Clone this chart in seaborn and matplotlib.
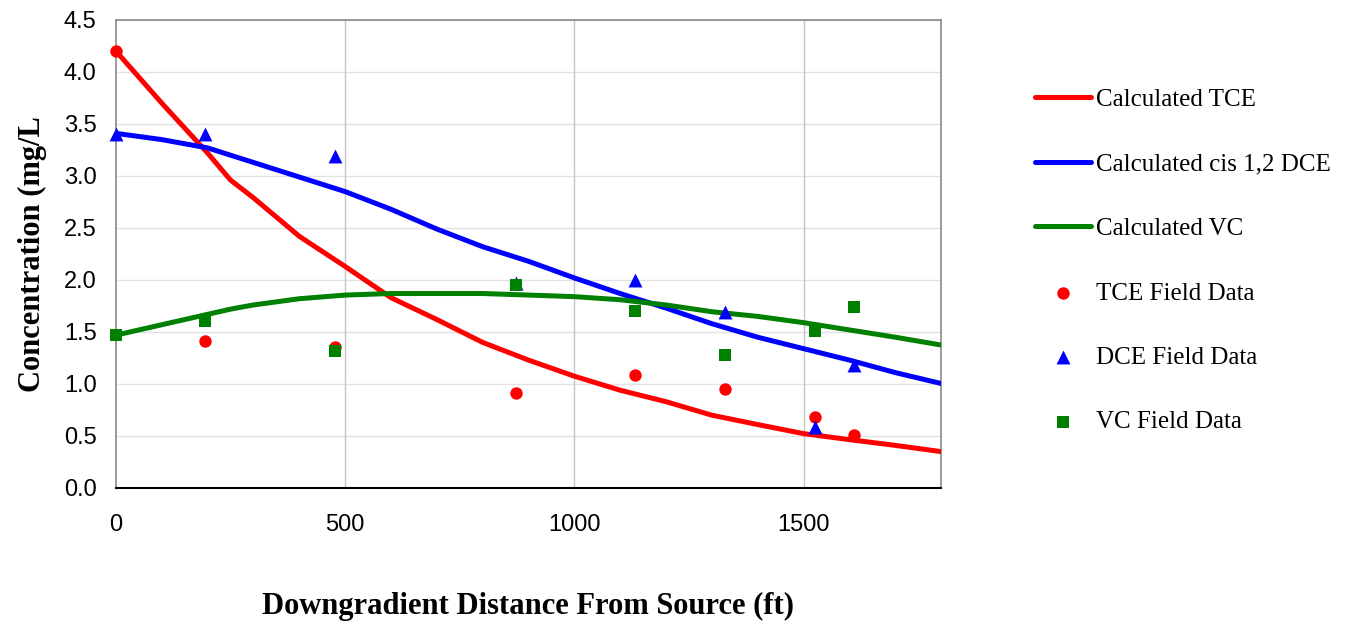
import matplotlib.pyplot as plt
import seaborn as sns
import pandas as pd
from matplotlib.ticker import FormatStrFormatter

# distancia (ft) de las curvas calculadas
dist_calc = [0, 100, 200, 250, 300, 400, 500, 600, 700, 800, 900, 1000,
             1100, 1200, 1300, 1400, 1500, 1600, 1700, 1800]
tce_calc = [4.20, 3.70, 3.22, 2.96, 2.79, 2.42, 2.13, 1.83, 1.62, 1.40, 1.23, 1.075,
            0.94, 0.83, 0.70, 0.61, 0.523, 0.465, 0.41, 0.35]
dce_calc = [3.41, 3.35, 3.27, 3.20, 3.13, 2.99, 2.85, 2.68, 2.49, 2.32, 2.18, 2.02,
            1.87, 1.73, 1.58, 1.45, 1.34, 1.23, 1.11, 1.005]
vc_calc = [1.47, 1.57, 1.67, 1.72, 1.76, 1.82, 1.855, 1.87, 1.87, 1.87, 1.855, 1.84,
           1.81, 1.76, 1.695, 1.65, 1.59, 1.52, 1.45, 1.375]

# datos de campo
dist_campo = [0, 195, 477, 872, 1132, 1328, 1524, 1611]
tce_campo = [4.20, 1.41, 1.36, 0.915, 1.085, 0.953, 0.684, 0.507]
dce_campo = [3.40, 3.40, 3.19, 1.974, 2.00, 1.695, 0.587, 1.18]
vc_campo = [1.47, 1.61, 1.316, 1.95, 1.705, 1.278, 1.51, 1.74]

rojo, azul, verde = '#FF0000', '#0000FF', '#008000'

sns.set_style('white')
plt.rcParams['font.family'] = ['Liberation Sans', 'DejaVu Sans']
plt.rcParams['text.color'] = 'black'
plt.rcParams['xtick.color'] = 'black'
plt.rcParams['ytick.color'] = 'black'
plt.rcParams['axes.labelcolor'] = 'black'

fig = plt.figure(figsize=(13.52, 6.23), dpi=100)
ax = fig.add_axes([116 / 1352, 1 - 488 / 623, (941 - 116) / 1352, (488 - 20) / 623])

df_calc = pd.DataFrame({'x': dist_calc, 'TCE': tce_calc, 'DCE': dce_calc, 'VC': vc_calc})
df_campo = pd.DataFrame({'x': dist_campo, 'TCE': tce_campo, 'DCE': dce_campo, 'VC': vc_campo})

sns.lineplot(data=df_calc, x='x', y='TCE', color=rojo, lw=3.6, ax=ax,
             label='Calculated TCE', zorder=3)
sns.lineplot(data=df_calc, x='x', y='DCE', color=azul, lw=3.6, ax=ax,
             label='Calculated cis 1,2 DCE', zorder=3)
sns.lineplot(data=df_calc, x='x', y='VC', color=verde, lw=3.6, ax=ax,
             label='Calculated VC', zorder=3)

sns.scatterplot(data=df_campo, x='x', y='TCE', color=rojo, marker='o', s=80,
                linewidth=0, ax=ax, label='TCE Field Data', zorder=4, clip_on=False)
sns.scatterplot(data=df_campo, x='x', y='DCE', color=azul, marker='^', s=100,
                linewidth=0, ax=ax, label='DCE Field Data', zorder=4, clip_on=False)
sns.scatterplot(data=df_campo, x='x', y='VC', color=verde, marker='s', s=70,
                linewidth=0, ax=ax, label='VC Field Data', zorder=4, clip_on=False)

ax.set_xlim(0, 1800)
ax.set_ylim(0, 4.5)
ax.set_xticks([0, 500, 1000, 1500])
ax.set_yticks([i * 0.5 for i in range(10)])
ax.yaxis.set_major_formatter(FormatStrFormatter('%.1f'))

# rejilla
for y in [i * 0.5 for i in range(1, 10)]:
    ax.axhline(y, color='#e2e2e2', lw=1, zorder=1)
for x in [500, 1000, 1500]:
    ax.axvline(x, color='#c4c4c4', lw=1, zorder=1)

for lado in ['top', 'right', 'left']:
    ax.spines[lado].set_color('#8a8a8a')
    ax.spines[lado].set_linewidth(1.2)
ax.spines['bottom'].set_color('black')
ax.spines['bottom'].set_linewidth(1.5)

ax.tick_params(axis='x', direction='inout', length=12, width=1.5, color='black',
               labelsize=17, pad=13)
ax.tick_params(axis='y', length=0, labelsize=17, pad=14)

ax.set_xlabel('Downgradient Distance From Source (ft)', family='Liberation Serif',
              fontweight='bold', fontsize=22, labelpad=40)
ax.set_ylabel('Concentration (mg/L', family='Liberation Serif',
              fontweight='bold', fontsize=22, labelpad=12)

handles, labels = ax.get_legend_handles_labels()
ax.get_legend().remove()
fig.legend(handles, labels, loc='center left', bbox_to_anchor=(1022 / 1352, 1 - 261 / 623),
           frameon=False, prop={'family': 'Liberation Serif', 'size': 18},
           handlelength=2.25, handletextpad=0.2, labelspacing=1.68, borderpad=0,
           scatterpoints=1)

plt.savefig('out.png', dpi=100)
plt.close()
